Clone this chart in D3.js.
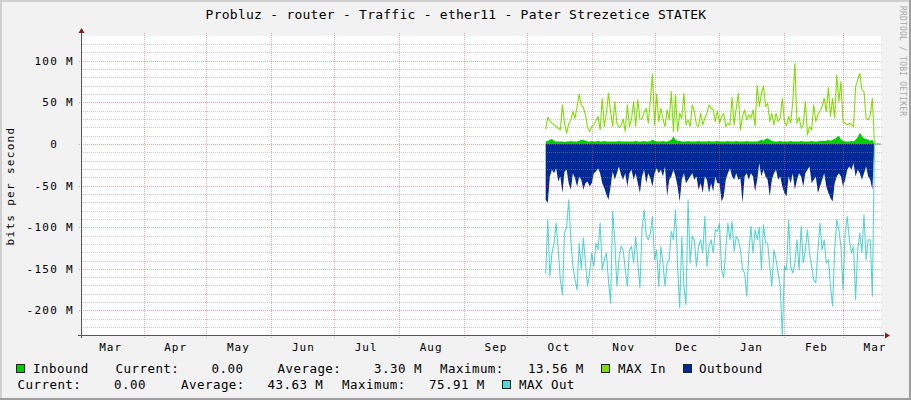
<!DOCTYPE html>
<html><head><meta charset="utf-8">
<script src="https://cdn.jsdelivr.net/npm/d3@7"></script>
<style>
html,body{margin:0;padding:0;background:#f2f2f2;overflow:hidden}
svg{display:block}
text{font-family:"DejaVu Sans Mono",monospace;white-space:pre;fill:#000}
</style>
</head><body>
<svg id="chart" width="911" height="400"></svg>
<script>
// ---------------- data ----------------
const chartTitle = "Probluz - router - Traffic - ether11 - Pater Strezetice STATEK";
const yAxisTitle = "bits per second";
const yTickValues = [100, 50, 0, -50, -100, -150, -200];
const yTickLabels = ["100 M", "50 M", "0  ", "-50 M", "-100 M", "-150 M", "-200 M"];
const monthLabels = ["Mar","Apr","May","Jun","Jul","Aug","Sep","Oct","Nov","Dec","Jan","Feb","Mar"];
const seriesStart = [2018, 9, 10]; // first daily sample: 10 Oct 2018 (one value per day)

// Inbound (M bits/s), daily
const inbound = [3,4,5,6,4,3,3,3,3,2.5, 3,3,3.5,3,3,3,4,5,5,4, 3,3,3.5,3,3,4,3,3,3.5,3,
  3,3,3,3,3,3.5,3,3,3,3, 3,3,3,3.5,3,3,3,3.5,3,3, 3.5,5,4,3,3,3,3.5,3,3,4,
  5,9,5,4,3.5,3,3,3,3.5,3, 3,3,3,3.5,3,3,3,3,3.5,3, 3,3,3.5,3,3,3,3,3.5,3,3,
  3,3.5,3,3,3,3,3.5,3,3,3, 3,3,4,5,4,6,7,5,4,3, 3,3,3.5,3,3,3,3,3.5,3,3,
  3,3,3.5,3,3,3,3,3.5,3,3, 3,4,4,3.5,4,5,4,5,6,8, 10,5,4,3,3,3,3.5,3,5,8,
  13.56,10,7,6,5,4,5, 0,0,0,0];
// MAX In (M bits/s), daily
const maxIn = [18,32,28,25,23,21,19,17,47,25, 13,24,29,39,31,45,60,47,44,35, 20,15,21,23,28,33,17,55,21,37,
  61,39,21,51,25,20,22,30,15,47, 21,30,51,21,53,30,30,38,43,25, 53,84,23,60,27,43,30,21,41,29,
  63,15,59,15,37,31,61,23,29,21, 47,39,23,21,37,23,31,37,47,43,
  41,27,40,25,33,37,21,25,23,56, 23,43,61,17,33,41,29,35,31,41, 21,71,45,60,70,45,49,27,37,23,
  37,27,31,55,27,22,33,25,51,97, 25,32,19,23,51,11,21,17,47,27, 35,40,45,55,39,68,33,55,31,83,
  51,75,27,25,23,25,23,21,69,77, 85,65,63,31,29,35,55, 0,0,0,0];
// Outbound (M bits/s, drawn below zero), daily
const outbound = [67,71,39,31,35,29,45,39,59,33, 31,47,55,35,41,51,39,43,55,47, 45,51,47,35,33,29,35,47,53,61,
  67,51,33,43,35,27,37,43,35,51, 35,31,43,35,47,59,39,31,47,35, 41,51,35,29,35,31,39,27,63,43,
  39,31,39,51,69,43,35,47,43,39, 35,43,39,55,47,59,39,43,59,47,
  57,39,47,47,69,63,43,35,29,39, 43,35,43,41,71,39,35,43,35,39, 57,43,23,39,31,39,43,63,43,35,
  31,43,39,51,59,63,39,47,35,55, 43,35,39,51,35,31,27,47,43,39, 59,51,43,35,51,59,65,69,47,39,
  35,39,51,43,31,27,31,23,39,31, 35,43,35,27,39,43,55, 0,0,0,0];
// MAX Out (M bits/s, drawn below zero), daily
const maxOut = [156,91,159,131,119,95,127,163,181,107, 100,67,115,147,163,175,119,150,113,143,
  171,155,131,147,119,127,95,151,139,131, 165,191,81,115,171,139,123,127,151,171,
  127,123,143,111,143,173,103,79,110,115, 107,87,139,127,171,123,143,171,143,139,
  105,115,79,147,197,111,171,193,67,143, 111,115,147,123,115,131,87,147,123,115,
  131,103,105,95,151,161,127,95,115,93, 129,111,115,127,151,155,183,131,99,131,
  103,115,100,151,97,119,119,147,171,127, 139,155,171,231,147,151,91,147,155,143,
  115,151,99,143,127,103,131,147,163,167, 127,95,127,115,143,139,171,195,127,91,
  103,123,175,107,87,115,131,123,187,127, 107,131,85,139,115,115,183, 0,0,0,0];

const legendRow1 = [
  {box:"#00CC00"}, {t:"Inbound"}, {t:"Current:"}, {t:"0.00"}, {t:"Average:"}, {t:"3.30 M"},
  {t:"Maximum:"}, {t:"13.56 M"}, {box:"#7FE000"}, {t:"MAX In"}, {box:"#002A97"}, {t:"Outbound"}];
const legendRow2 = [
  {t:"Current:"}, {t:"0.00"}, {t:"Average:"}, {t:"43.63 M"}, {t:"Maximum:"}, {t:"75.91 M"},
  {box:"#55D6D3"}, {t:"MAX Out"}];

// ---------------- layout ----------------
const W = 911, H = 400;
const PL = 81, PR = 881, PT = 36, PB = 335;
const svg = d3.select("#chart");

const x = d3.scaleUtc()
  .domain([new Date(Date.UTC(2018, 2, 2, 2, 40)), new Date(Date.UTC(2019, 2, 19, 3, 0))])
  .range([PL, PR]);
const y = d3.scaleLinear().domain([-229.5, 129.8]).range([PB, PT]);

const dayDate = i => new Date(Date.UTC(seriesStart[0], seriesStart[1], seriesStart[2] + i));

// background + shade border
svg.append("rect").attr("width", W).attr("height", H).attr("fill", "#f2f2f2");
svg.append("path").attr("d", `M0,0H${W}V2H2V${H}H0Z`).attr("fill", "#cfcfcf");
svg.append("path").attr("d", `M${W},${H}H0V${H-2}H${W-2}V0H${W}Z`).attr("fill", "#9e9e9e");

// canvas
svg.append("rect").attr("x", PL).attr("y", PT).attr("width", PR - PL).attr("height", PB - PT).attr("fill", "#fff");

const clip = svg.append("clipPath").attr("id", "clip").append("rect")
  .attr("x", PL).attr("y", PT).attr("width", PR - PL).attr("height", PB - PT);
const plot = svg.append("g").attr("clip-path", "url(#clip)");

// areas
const areaUp = d3.area().x((d, i) => x(dayDate(i))).y0(y(0)).y1(d => y(d));
const areaDown = d3.area().x((d, i) => x(dayDate(i))).y0(y(0)).y1(d => y(-d));
plot.append("path").datum(inbound).attr("d", areaUp).attr("fill", "#00CC00");
plot.append("path").datum(outbound).attr("d", areaDown).attr("fill", "#002A97");

// lines
const lineUp = d3.line().x((d, i) => x(dayDate(i))).y(d => y(d));
const lineDown = d3.line().x((d, i) => x(dayDate(i))).y(d => y(-d));
plot.append("path").datum(maxIn).attr("d", lineUp).attr("fill", "none")
  .attr("stroke", "#7FE000").attr("stroke-width", 1.1).attr("stroke-linejoin", "round");
plot.append("path").datum(maxOut).attr("d", lineDown).attr("fill", "none")
  .attr("stroke", "#55D6D3").attr("stroke-width", 1.1).attr("stroke-linejoin", "round");

// grid (drawn above data, like rrdtool)
const grid = svg.append("g");
const minorVals = d3.range(-220, 130, 10).filter(v => v % 50 !== 0);
grid.selectAll("line.minor").data(minorVals).enter().append("line")
  .attr("x1", PL).attr("x2", PR + 2)
  .attr("y1", v => Math.round(y(v)) + 0.5).attr("y2", v => Math.round(y(v)) + 0.5)
  .attr("stroke", "rgba(143,143,143,0.5)").attr("stroke-dasharray", "1,1");
grid.selectAll("line.major").data(yTickValues).enter().append("line")
  .attr("x1", PL - 2).attr("x2", PR + 2)
  .attr("y1", v => Math.round(y(v)) + 0.5).attr("y2", v => Math.round(y(v)) + 0.5)
  .attr("stroke", "rgba(222,79,79,0.5)").attr("stroke-dasharray", "1,1");
const monthStarts = d3.utcMonth.range(new Date(Date.UTC(2018, 3, 1)), new Date(Date.UTC(2019, 2, 2)));
grid.selectAll("line.vmajor").data(monthStarts).enter().append("line")
  .attr("x1", d => Math.round(x(d)) + 0.5).attr("x2", d => Math.round(x(d)) + 0.5)
  .attr("y1", PT - 3).attr("y2", PB + 3)
  .attr("stroke", "rgba(222,79,79,0.5)").attr("stroke-dasharray", "1,1");

// axes
svg.append("line").attr("x1", PL - 3).attr("x2", PR + 3).attr("y1", PB + 0.5).attr("y2", PB + 0.5)
  .attr("stroke", "#555").attr("stroke-width", 1);
svg.append("line").attr("x1", PL + 0.5).attr("x2", PL + 0.5).attr("y1", PB + 3).attr("y2", PT - 4)
  .attr("stroke", "#555").attr("stroke-width", 1);
svg.append("path").attr("d", `M${PL + 0.5},${PT - 8}L${PL - 2.5},${PT - 3}L${PL + 3.5},${PT - 3}Z`).attr("fill", "#801F1F");
svg.append("path").attr("d", `M${PR + 9},${PB + 0.5}L${PR + 4},${PB - 2.5}L${PR + 4},${PB + 3.5}Z`).attr("fill", "#801F1F");

// y tick labels
svg.selectAll("text.ytick").data(yTickValues).enter().append("text")
  .attr("x", 74).attr("y", v => y(v) + 4)
  .attr("text-anchor", "end").style("font-size", "11px").style("letter-spacing", "1.3px")
  .text((v, i) => yTickLabels[i]);

// x month labels (centered mid-month)
const labelDates = monthLabels.map((m, i) => new Date(Date.UTC(2018, 2 + i, 16)));
svg.selectAll("text.xtick").data(labelDates).enter().append("text")
  .attr("x", d => x(d) + 0.6).attr("y", 351)
  .attr("text-anchor", "middle").style("font-size", "11px").style("letter-spacing", "1px")
  .text((d, i) => monthLabels[i]);

// title
svg.append("text").attr("x", 456).attr("y", 19).attr("text-anchor", "middle")
  .style("font-size", "13px").style("letter-spacing", "0.25px").text(chartTitle);

// y axis title
svg.append("text").attr("transform", "translate(14,186) rotate(-90)").attr("text-anchor", "middle")
  .style("font-size", "11px").style("letter-spacing", "1.3px").text(yAxisTitle);

// watermark
svg.append("text").attr("transform", "translate(900,6) rotate(90)").attr("text-anchor", "start")
  .style("font-size", "8px").style("letter-spacing", "0.2px").style("fill", "#a8a8a8")
  .text("RRDTOOL / TOBI OETIKER");

// legend
function drawLegend(items, xs, baseY) {
  items.forEach((it, i) => {
    if (it.box) {
      svg.append("rect").attr("x", xs[i] + 0.5).attr("y", baseY - 8.5).attr("width", 8).attr("height", 8)
        .attr("fill", it.box).attr("stroke", "#222").attr("stroke-width", 1);
    } else {
      svg.append("text").attr("x", xs[i]).attr("y", baseY)
        .style("font-size", "12.5px").style("letter-spacing", "0.45px").text(it.t);
    }
  });
}
drawLegend(legendRow1, [16, 33, 115.5, 211.5, 277.5, 374, 440, 528, 601, 618, 683, 699], 373);
drawLegend(legendRow2, [17.5, 114, 181, 267.5, 342, 429, 502, 519], 389);
</script>
</body></html>
